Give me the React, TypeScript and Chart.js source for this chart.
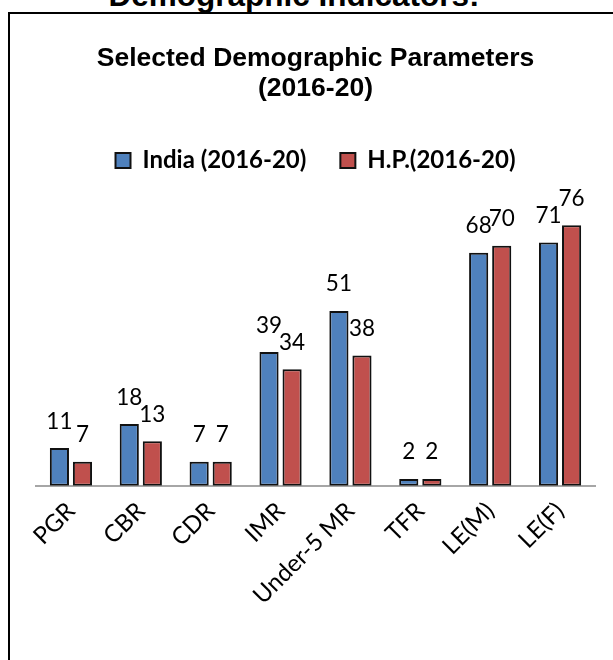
import React, { useEffect, useRef } from "react";
import { Chart, registerables } from "chart.js";

Chart.register(...registerables);

const categories = ["PGR", "CBR", "CDR", "IMR", "Under-5 MR", "TFR", "LE(M)", "LE(F)"];
const indiaValues = [11, 18, 7, 39, 51, 2, 68, 71];
const hpValues = [7, 13, 7, 34, 38, 2, 70, 76];
const seriesNames = ["India (2016-20)", "H.P.(2016-20)"];
const chartTitle = ["Selected Demographic Parameters", "(2016-20)"];
const pageHeading = "Demographic Indicators:";

// Writes each bar's value centred above it.
const valueLabels = {
  id: "valueLabels",
  afterDatasetsDraw(chart: any) {
    const ctx = chart.ctx;
    ctx.save();
    ctx.font = "22.5px Lato";
    ctx.fillStyle = "#000";
    ctx.textAlign = "center";
    ctx.textBaseline = "alphabetic";
    chart.data.datasets.forEach((ds: any, di: number) => {
      const meta = chart.getDatasetMeta(di);
      meta.data.forEach((bar: any, i: number) => {
        ctx.fillText(String(ds.data[i]), bar.x, bar.y - 19.5);
      });
    });
    ctx.restore();
  },
};

export default function App() {
  const canvasRef = useRef<HTMLCanvasElement | null>(null);

  useEffect(() => {
    if (!canvasRef.current) return;
    const chart = new Chart(canvasRef.current, {
      type: "bar",
      data: {
        labels: categories,
        datasets: [
          {
            label: seriesNames[0],
            data: indiaValues,
            backgroundColor: "#4F81BD",
            borderColor: "#111",
            borderWidth: 2,
            borderSkipped: false,
            barPercentage: 0.83,
            categoryPercentage: 0.66,
          },
          {
            label: seriesNames[1],
            data: hpValues,
            backgroundColor: "#C0504D",
            borderColor: "#111",
            borderWidth: 2,
            borderSkipped: false,
            barPercentage: 0.83,
            categoryPercentage: 0.66,
          },
        ],
      },
      options: {
        animation: false,
        responsive: false,
        maintainAspectRatio: false,
        layout: { padding: { left: 26, right: 25, top: 0, bottom: 47 } },
        plugins: {
          tooltip: { enabled: false },
          title: {
            display: true,
            text: chartTitle,
            color: "#000",
            font: { family: "'Liberation Sans', Arial, sans-serif", size: 26.5, weight: "bold", lineHeight: 1.13 },
            padding: { top: 30, bottom: 10.5 },
          },
          legend: {
            display: true,
            labels: {
              color: "#000",
              font: { family: "Lato", size: 24, weight: "bold" },
              boxWidth: 15,
              boxHeight: 15,
              padding: 34,
            },
          },
        },
        scales: {
          x: {
            grid: { display: false },
            border: { display: true, color: "#A6A6A6", width: 2 },
            ticks: {
              color: "#000",
              font: { family: "Lato", size: 24 },
              maxRotation: 45,
              minRotation: 45,
            },
          },
          y: {
            display: false,
            min: 0,
            max: 88.5,
          },
        },
      },
      plugins: [valueLabels],
    });
    return () => chart.destroy();
  }, []);

  return (
    <div style={{ position: "fixed", inset: 0, overflow: "hidden", background: "#fff" }}>
      <div
        style={{
          position: "absolute",
          left: 294,
          top: -21,
          transform: "translateX(-50%)",
          whiteSpace: "nowrap",
          font: "bold 31.5px 'Liberation Sans', Arial, sans-serif",
          lineHeight: "32px",
          color: "#000",
        }}
      >
        {pageHeading}
      </div>
      <div
        style={{
          position: "absolute",
          left: 8,
          top: 12,
          width: 700,
          height: 700,
          borderLeft: "2px solid #000",
          borderTop: "2px solid #000",
        }}
      >
        <canvas ref={canvasRef} width={610} height={646} style={{ display: "block" }} />
      </div>
    </div>
  );
}
